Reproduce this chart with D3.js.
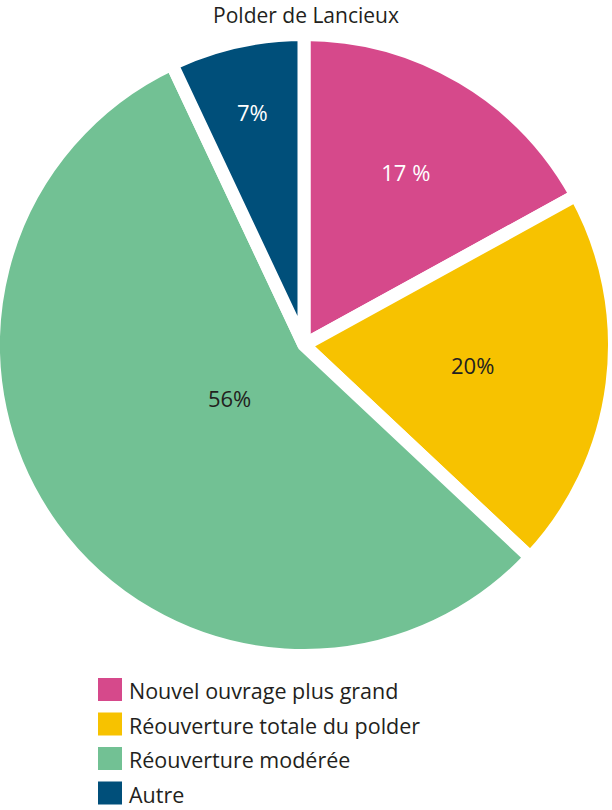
<!DOCTYPE html>
<html>
<head>
<meta charset="utf-8">
<script src="https://cdn.jsdelivr.net/npm/d3@7"></script>
<style>
  html, body { margin: 0; padding: 0; background: #fff; }
  svg { display: block; }
  text { font-family: "Open Sans", "Noto Sans", sans-serif; }
</style>
</head>
<body>
<svg id="chart" width="612" height="810"></svg>
<script>
const title = "Polder de Lancieux";
const categories = ["Nouvel ouvrage plus grand", "Réouverture totale du polder", "Réouverture modérée", "Autre"];
const values = [17, 20, 56, 7];
const valueLabels = ["17 %", "20%", "56%", "7%"];
const colors = ["#d6498b", "#f7c200", "#72c194", "#004f7a"];
const labelColors = ["#ffffff", "#231f20", "#231f20", "#ffffff"];

const W = 612, H = 810;
const cx = 304, cy = 345;
const gap = 13;
const visR = 304;
const R = visR + gap / 2;
const labelR = [200, 170, 92, 237];

const svg = d3.select("#chart");

svg.append("text")
  .attr("x", 306).attr("y", 22.5)
  .attr("text-anchor", "middle")
  .attr("font-size", 21)
  .attr("fill", "#231f20")
  .text(title);

const pie = d3.pie().sort(null).value(d => d);
const arcs = pie(values);
const arc = d3.arc().innerRadius(0).outerRadius(R);

const g = svg.append("g").attr("transform", `translate(${cx},${cy})`);

g.selectAll("path.slice")
  .data(arcs)
  .join("path")
  .attr("class", "slice")
  .attr("d", arc)
  .attr("fill", (d, i) => colors[i])
  .attr("stroke", "#fff")
  .attr("stroke-width", gap)
  .attr("stroke-linejoin", "miter");

g.selectAll("text.val")
  .data(arcs)
  .join("text")
  .attr("class", "val")
  .attr("transform", (d, i) => {
    const c = d3.arc().innerRadius(labelR[i]).outerRadius(labelR[i]).centroid(d);
    return `translate(${c[0]},${c[1]})`;
  })
  .attr("text-anchor", "middle")
  .attr("dy", "0.35em")
  .attr("font-size", 22)
  .attr("fill", (d, i) => labelColors[i])
  .text((d, i) => valueLabels[i]);

const legend = svg.append("g").attr("transform", "translate(98,678)");
const rowH = 34.5;
const items = legend.selectAll("g.item")
  .data(categories)
  .join("g")
  .attr("class", "item")
  .attr("transform", (d, i) => `translate(0,${i * rowH})`);
items.append("rect")
  .attr("width", 24).attr("height", 23)
  .attr("fill", (d, i) => colors[i]);
items.append("text")
  .attr("x", 31).attr("y", 21)
  .attr("font-size", 21.5)
  .attr("fill", "#231f20")
  .text(d => d);
</script>
</body>
</html>
